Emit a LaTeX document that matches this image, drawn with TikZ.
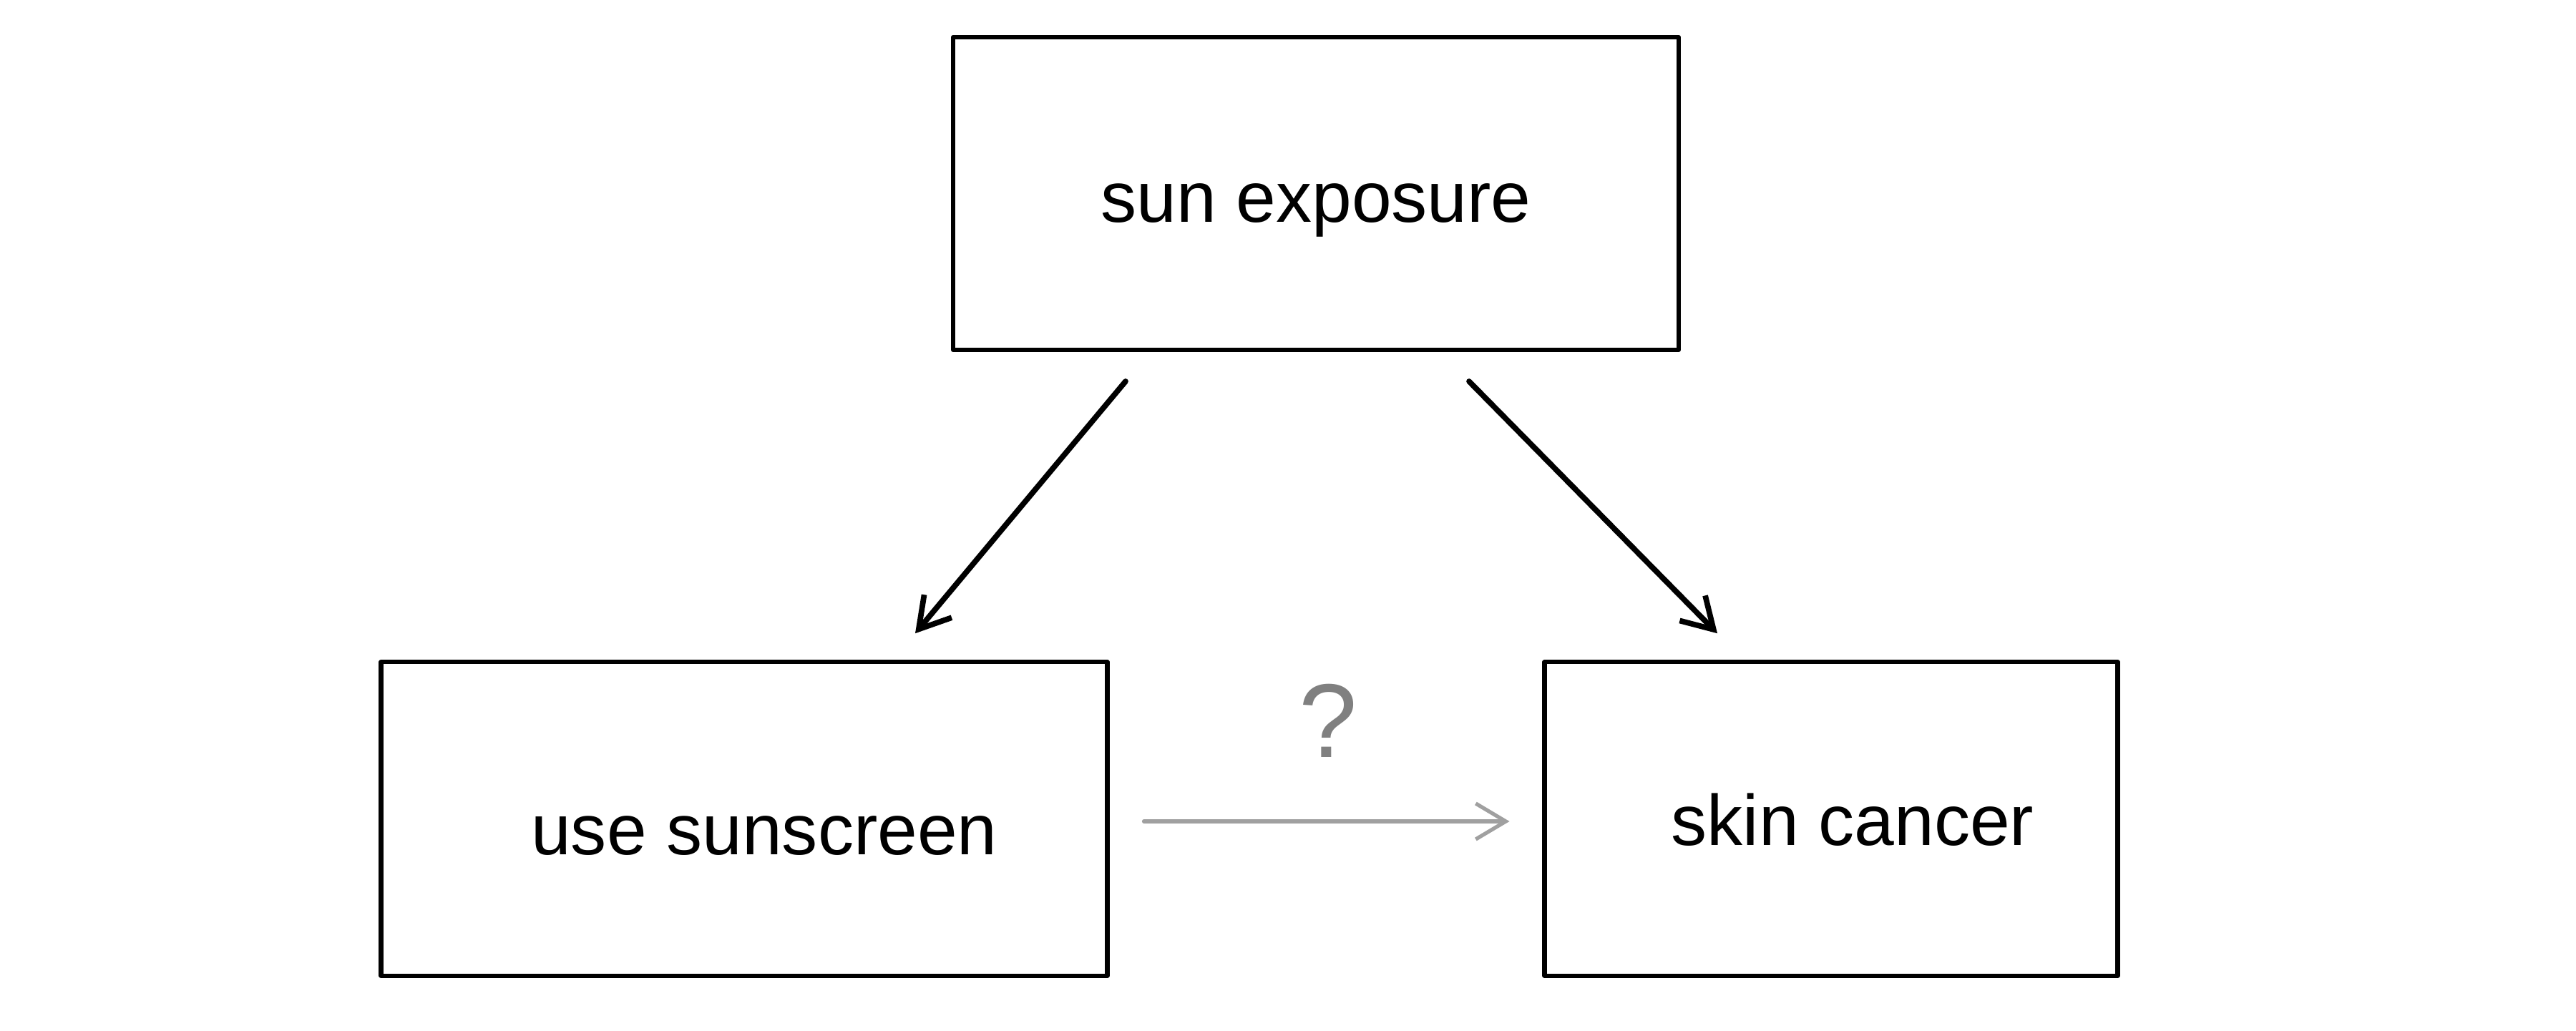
\documentclass[tikz,border=0pt]{standalone}
\usepackage{fontspec}
\setmainfont{Liberation Sans}
\usepackage{xcolor}
\usetikzlibrary{arrows.meta, positioning}

\definecolor{qgray}{HTML}{808080}
\definecolor{linkgray}{HTML}{A0A0A0}

\begin{document}
\begin{tikzpicture}[
  box/.style={rectangle, draw=black, line width=1.8pt, line join=round, minimum height=4.385cm,
    outer sep=0pt, inner sep=0pt},
  lbl/.style={anchor=base, inner sep=0pt, font=\fontsize{28.5}{34}\selectfont},
  causal/.style={-{Straight Barb[length=4.2mm, width=5mm]}, line width=2.2pt, line cap=round},
  unknown/.style={-{Straight Barb[length=4.2mm, width=5mm]}, line width=1.5pt, line cap=round, draw=linkgray}
]
\useasboundingbox (0,0) rectangle (36,14.4);

\node (sun) [box, minimum width=10.14cm, minimum height=4.37cm] at (18.39,11.695) {};
\node (screen) [box, minimum width=10.15cm, below=4.3625cm of sun, xshift=-7.99cm] {};
\node (cancer) [box, minimum width=8.01cm, below=4.3625cm of sun, xshift=7.2cm] {};

\node (suntxt) [lbl] at ([yshift=-4.05mm]sun.center) {sun exposure};
\node (screentxt) [lbl] at ([xshift=2.8mm, yshift=-4.95mm]screen.center) {use sunscreen};
\node (cancertxt) [lbl] at ([xshift=3mm, yshift=-3.65mm]cancer.center) {skin cancer};

% confounder
\draw [causal] ([xshift=-2.66cm, yshift=-4.4mm]sun.south) -- ([xshift=2.39cm, yshift=4mm]screen.north);
\draw [causal] ([xshift=2.14cm, yshift=-4.4mm]sun.south) -- ([xshift=-1.59cm, yshift=4mm]cancer.north);

% the link in question
\draw [unknown] ([xshift=5.1mm, yshift=-0.35mm]screen.east) -- ([xshift=-4.9mm, yshift=-0.35mm]cancer.west);
\node (ask) [anchor=base, inner sep=0pt, text=qgray, font=\fontsize{41.7}{50}\selectfont] at (18.56,3.82) {?};

\end{tikzpicture}
\end{document}
